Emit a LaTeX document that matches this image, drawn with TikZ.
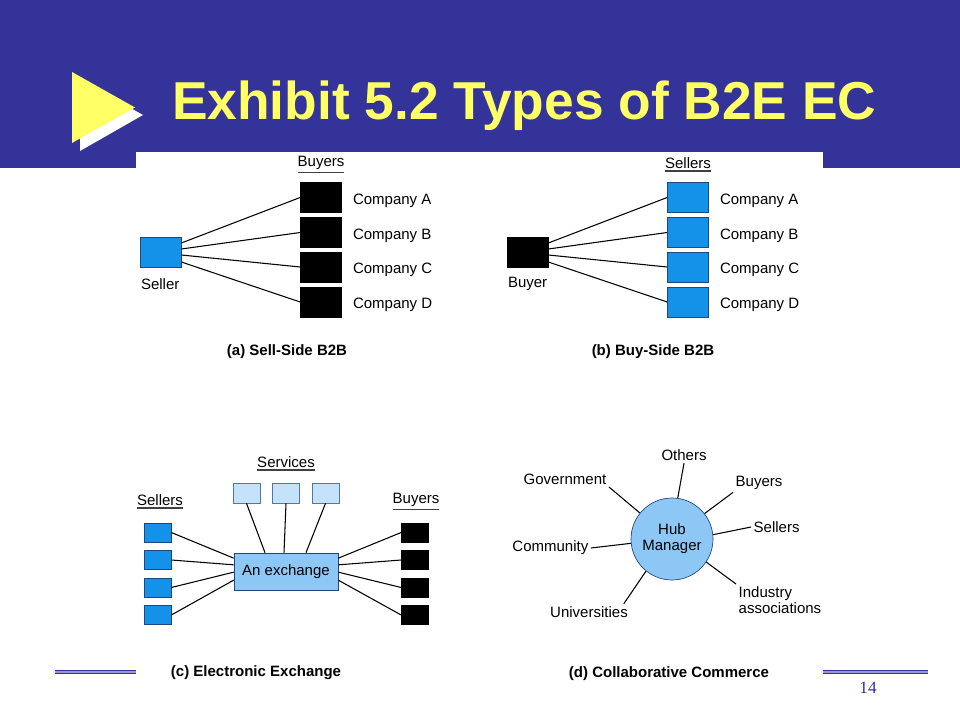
\documentclass[tikz,border=0pt]{standalone}
\usepackage{fontspec}
\setmainfont{Liberation Sans}
\newfontfamily\numfont{Liberation Serif}
\definecolor{banner}{RGB}{51,51,153}
\definecolor{titleyellow}{RGB}{255,255,102}
\definecolor{boxblue}{RGB}{20,145,232}
\definecolor{boxedge}{RGB}{30,70,130}
\definecolor{paleblue}{RGB}{196,226,250}
\definecolor{midblue}{RGB}{141,199,245}
\definecolor{paleedge}{RGB}{80,120,160}
\definecolor{ruleline}{RGB}{150,150,215}
\begin{document}
\begin{tikzpicture}[x=0.75pt,y=-0.75pt]
		\tikzstyle{every node}=[font=\fontsize{11.25}{12}\selectfont]
		\tikzstyle{blank} = [inner sep=0pt, outer sep=0pt]
		\tikzstyle{socio} = [inner sep=2pt, outer sep=0pt]
		\tikzstyle{company} = [draw=black, fill=black, line width=0.5pt, minimum width=30.75pt, minimum height=22.5pt, inner sep=0pt]
		\tikzstyle{bluebox} = [company, draw=boxedge, fill=boxblue]
		\tikzstyle{member} = [company, minimum width=20.25pt, minimum height=14.25pt]
		\tikzstyle{bluemember} = [member, draw=boxedge, fill=boxblue]
		\tikzstyle{service} = [member, draw=paleedge, fill=paleblue, minimum height=15pt]
		\tikzstyle{linea} = [line width=0.8pt]
		\tikzstyle{rayita} = [line width=1.1pt, draw=darkgray]
		\tikzstyle{titulo} = [inner sep=0pt, font=\fontsize{11.25}{12}\selectfont\bfseries]
		
		\useasboundingbox (0,0) rectangle (960,720);
		\fill[white] (0,0) rectangle (960,720);
		\fill[banner] (0,0) rectangle (960,168);
		\draw[draw=banner, double=ruleline, double distance=0.8pt, line width=0.9pt] (55,672) -- (928,672);
		\fill[white] (136,152) rectangle (823,700);
		\fill[white] (80,80) -- (80,151) -- (143,115) -- cycle;
		\fill[titleyellow] (72,72) -- (72,143) -- (135,107.5) -- cycle;
		\draw (172,120) node[blank, anchor=base west, text=titleyellow, font=\fontsize{40}{48}\selectfont\bfseries](title){Exhibit 5.2 Types of B2E EC};
		\draw (868,688) node[blank, text=banner, font=\fontsize{13}{15}\numfont](page){14};
		
		% (a) sell-side
		\draw (160.5,252) node[bluebox](seller){};
		\draw (141,284) node[blank, anchor=west](sellerlbl){Seller};
		\draw (321,163) node[blank](buyershd){Buyers};
		\draw[rayita] ([yshift=-2pt]buyershd.south west) -- ([yshift=-2pt]buyershd.south east);
		\draw (321,197.5) node[company](ba){};
		\draw (321,232.5) node[company](bb){};
		\draw (321,267) node[company](bc){};
		\draw (321,302) node[company](bd){};
		\draw (353,200.5) node[blank, anchor=west](balbl){Company A};
		\draw (353,235.5) node[blank, anchor=west](bblbl){Company B};
		\draw (353,270) node[blank, anchor=west](bclbl){Company C};
		\draw (353,305) node[blank, anchor=west](bdlbl){Company D};
		\draw[linea] ([yshift=6.75pt]seller.east) -- (ba.west);
		\draw[linea] ([yshift=2.25pt]seller.east) -- (bb.west);
		\draw[linea] ([yshift=-2.25pt]seller.east) -- (bc.west);
		\draw[linea] ([yshift=-7.5pt]seller.east) -- (bd.west);
		\draw (287,352) node[titulo](capa){(a) Sell-Side B2B};
		
		% (b) buy-side
		\draw (527.5,252) node[company](buyer){};
		\draw (508,284) node[blank, anchor=west](buyerlbl){Buyer};
		\draw (688,163) node[blank](sellershd){Sellers};
		\draw[rayita] ([yshift=-2pt]sellershd.south west) -- ([yshift=-2pt]sellershd.south east);
		\draw (688,197.5) node[bluebox](sa){};
		\draw (688,232.5) node[bluebox](sb){};
		\draw (688,267) node[bluebox](sc){};
		\draw (688,302) node[bluebox](sd){};
		\draw (720,200.5) node[blank, anchor=west](salbl){Company A};
		\draw (720,235.5) node[blank, anchor=west](sblbl){Company B};
		\draw (720,270) node[blank, anchor=west](sclbl){Company C};
		\draw (720,305) node[blank, anchor=west](sdlbl){Company D};
		\draw[linea] ([yshift=6.75pt]buyer.east) -- (sa.west);
		\draw[linea] ([yshift=2.25pt]buyer.east) -- (sb.west);
		\draw[linea] ([yshift=-2.25pt]buyer.east) -- (sc.west);
		\draw[linea] ([yshift=-7.5pt]buyer.east) -- (sd.west);
		\draw (653,352) node[titulo](capb){(b) Buy-Side B2B};
		
		% (c) electronic exchange
		\draw (286,571.5) node[company, draw=boxedge, fill=midblue, minimum width=78pt, minimum height=27.75pt](exch){An exchange};
		\draw (286,462) node[blank](servhd){Services};
		\draw[rayita] ([yshift=-2pt]servhd.south west) -- ([yshift=-2pt]servhd.south east);
		\draw (246.5,493) node[service](sv1){};
		\draw (286,493) node[service](sv2){};
		\draw (325.5,493) node[service](sv3){};
		\draw[linea] (sv1.south) -- ([xshift=-15.75pt]exch.north);
		\draw[linea] (sv2.south) -- ([xshift=-1.5pt]exch.north);
		\draw[linea] (sv3.south) -- ([xshift=15pt]exch.north);
		\draw (160,500) node[blank](exsellhd){Sellers};
		\draw[rayita] ([yshift=-2pt]exsellhd.south west) -- ([yshift=-2pt]exsellhd.south east);
		\draw (416,500) node[blank](exbuyhd){Buyers};
		\draw[rayita] ([yshift=-2pt]exbuyhd.south west) -- ([yshift=-2pt]exbuyhd.south east);
		\draw (157.5,532.5) node[bluemember](es1){};
		\draw (157.5,560) node[bluemember](es2){};
		\draw (157.5,587.5) node[bluemember](es3){};
		\draw (157.5,615) node[bluemember](es4){};
		\draw (415,532.5) node[member](eb1){};
		\draw (415,560) node[member](eb2){};
		\draw (415,587.5) node[member](eb3){};
		\draw (415,615) node[member](eb4){};
		\draw[linea] (es1.east) -- ([yshift=10pt]exch.west);
		\draw[linea] (es2.east) -- ([yshift=5pt]exch.west);
		\draw[linea] (es3.east) -- ([yshift=-0.5pt]exch.west);
		\draw[linea] (es4.east) -- ([yshift=-6.5pt]exch.west);
		\draw[linea] (eb1.west) -- ([yshift=10pt]exch.east);
		\draw[linea] (eb2.west) -- ([yshift=5pt]exch.east);
		\draw[linea] (eb3.west) -- ([yshift=-0.5pt]exch.east);
		\draw[linea] (eb4.west) -- ([yshift=-6.5pt]exch.east);
		\draw (256,673) node[titulo](capc){(c) Electronic Exchange};
		
		% (d) collaborative commerce
		\draw (672,539) node[circle, draw=boxedge, fill=midblue, line width=0.5pt, minimum size=61.5pt, inner sep=0pt, align=center](hub){Hub\\Manager};
		\draw (684,455) node[socio](others){Others};
		\draw (733,483) node[socio, anchor=west](buyers){Buyers};
		\draw (751,527) node[socio, anchor=west](sellers){Sellers};
		\draw (736,584) node[socio, anchor=north west, align=left](industry){Industry\\associations};
		\draw (589,612) node[socio](univ){Universities};
		\draw (591,548) node[socio, anchor=east](community){Community};
		\draw (565,479) node[socio](gov){Government};
		\draw[linea] (hub.82) -- (others.south);
		\draw[linea] (hub.38) -- (buyers.south west);
		\draw[linea] (hub.6) -- (sellers.west);
		\draw[linea] (hub.-34) -- (industry.north west);
		\draw[linea] (hub.231) -- ([xshift=-5pt]univ.north east);
		\draw[linea] (hub.186) -- (community.east);
		\draw[linea] (hub.141) -- (gov.south east);
		\draw (669,674) node[titulo](capd){(d) Collaborative Commerce};
	\end{tikzpicture}
\end{document}
